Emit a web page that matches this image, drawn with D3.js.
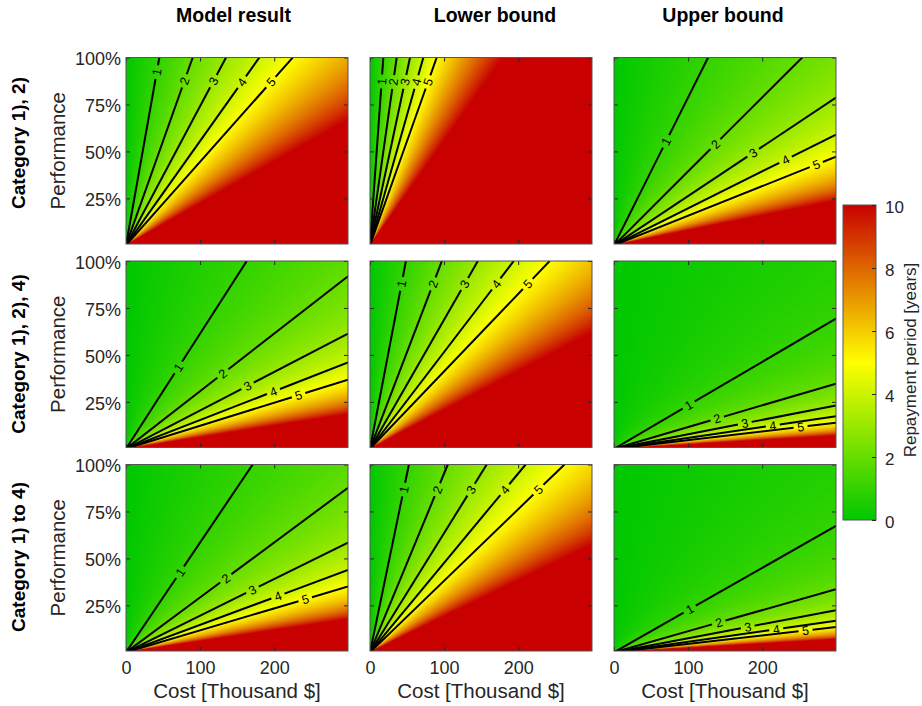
<!DOCTYPE html>
<html>
<head>
<meta charset="utf-8">
<script src="https://cdn.jsdelivr.net/npm/d3@7"></script>
<style>
  body { margin: 0; background: #fff; }
  svg text { font-family: "Liberation Sans", Arial, Helvetica, sans-serif; }
</style>
</head>
<body>
<svg id="chart" width="922" height="706"></svg>
<script>
// ---- data ----
const scenarios = ["Model result", "Lower bound", "Upper bound"];
const categories = ["Category 1), 2)", "Category 1), 2), 4)", "Category 1) to 4)"];
// yearly saving at 100 % performance [thousand $ / year], one per category row
const savingModel = [45, 163, 171];
const savingLower = [18, 48.5, 52.5];
const savingUpper = [127, 432, 445];
const contourLevels = [1, 2, 3, 4, 5];
// cost [thousand $] where each contour label sits
const labelCostModel = [[41.5, 78.8, 118, 156.4, 195.6], [70.7, 130.7, 164, 199, 232.9], [73, 134.7, 170.7, 205, 241.9]];
const labelCostLower = [[15.7, 31.3, 47, 62.6, 78.3], [42.6, 85.2, 127.7, 170.3, 212.9], [45.5, 90.9, 136.4, 181.9, 227.3]];
const labelCostUpper = [[70.3, 136.9, 187.8, 231.5, 273], [100.8, 139.2, 176.5, 214.3, 251.8], [102.2, 141.4, 180.5, 218.9, 258.5]];
const costTicks = [0, 100, 200];
const perfTicks = [0.25, 0.5, 0.75, 1];
const cbarTicks = [0, 2, 4, 6, 8, 10];

const savings = [savingModel, savingLower, savingUpper];
const labelCosts = [labelCostModel, labelCostLower, labelCostUpper];

// ---- layout ----
const colLeft = [126, 370, 614], panelW = 222;
const rowTop = [57.5, 261, 464.5], panelH = 186.5;
const titleX = [233.5, 495, 723];
const rowLabelY = [143, 354, 557];
const tickColor = "#262626";

const svg = d3.select("#chart");

const x = d3.scaleLinear().domain([0, 299.6]).range([0, panelW]);
const y = d3.scaleLinear().domain([0.007, 1]).range([panelH, 0]);
const color = d3.scaleLinear().domain([0, 5, 10]).range(["#00c800", "#ffff00", "#c80000"]).clamp(true);

const line = d3.line().x(d => x(d[0])).y(d => y(d[1]));

function heatmap(a) {
  const w = Math.ceil(panelW), h = Math.ceil(panelH);
  const cv = document.createElement("canvas");
  cv.width = w; cv.height = h;
  const ctx = cv.getContext("2d");
  const img = ctx.createImageData(w, h);
  for (let j = 0; j < h; j++) {
    const perf = y.invert(j + 0.5);
    for (let i = 0; i < w; i++) {
      const cost = x.invert(i + 0.5);
      const T = perf > 0 ? Math.min(10, cost / (a * perf)) : 10;
      const c = d3.rgb(color(T));
      const k = (j * w + i) * 4;
      img.data[k] = c.r; img.data[k + 1] = c.g; img.data[k + 2] = c.b; img.data[k + 3] = 255;
    }
  }
  ctx.putImageData(img, 0, 0);
  return cv.toDataURL();
}

scenarios.forEach((sc, c) => {
  svg.append("text")
    .attr("x", titleX[c]).attr("y", 21.5)
    .attr("text-anchor", "middle")
    .style("font-size", "19.5px").style("font-weight", "bold")
    .text(sc);

  categories.forEach((cat, r) => {
    const a = savings[c][r];
    const g = svg.append("g").attr("transform", `translate(${colLeft[c]},${rowTop[r]})`);
    const clipId = `clip-${r}-${c}`;
    g.append("clipPath").attr("id", clipId)
      .append("rect").attr("width", panelW).attr("height", panelH);

    g.append("image")
      .attr("href", heatmap(a))
      .attr("width", panelW).attr("height", panelH)
      .attr("preserveAspectRatio", "none");

    // contour lines with labels
    const lines = g.append("g").attr("clip-path", `url(#${clipId})`);
    contourLevels.forEach((t, i) => {
      const costEnd = Math.min(x.domain()[1], a * t);
      const p0 = [x(0), y(0)];
      const p1 = [x(costEnd), y(costEnd / (a * t))];
      const len = Math.hypot(p1[0] - p0[0], p1[1] - p0[1]);
      const u = [(p1[0] - p0[0]) / len, (p1[1] - p0[1]) / len];
      const lc = labelCosts[c][r][i];
      const L = [x(lc), y(lc / (a * t))];
      const gap = 7;
      const segs = [
        [p0, [L[0] - u[0] * gap, L[1] - u[1] * gap]],
        [[L[0] + u[0] * gap, L[1] + u[1] * gap], p1]
      ];
      segs.forEach(s => {
        lines.append("path")
          .attr("d", line(s.map(p => [x.invert(p[0]), y.invert(p[1])])))
          .attr("fill", "none").attr("stroke", "#000").attr("stroke-width", 2);
      });
      const ang = Math.atan2(u[1], u[0]) * 180 / Math.PI;
      g.append("text")
        .attr("transform", `translate(${L[0]},${L[1]}) rotate(${ang})`)
        .attr("text-anchor", "middle").attr("dy", "0.36em")
        .style("font-size", "12.5px").attr("fill", "#000")
        .text(t);
    });

    // axes (ticks pointing inward, box on)
    const bottom = g.append("g").attr("transform", `translate(0,${panelH})`)
      .call(d3.axisBottom(x).tickValues(costTicks).tickSize(-4).tickPadding(10)
        .tickFormat(r === 2 ? d3.format("d") : ""));
    const top = g.append("g").call(d3.axisTop(x).tickValues(costTicks).tickSize(-4).tickFormat(""));
    const left = g.append("g")
      .call(d3.axisLeft(y).tickValues(perfTicks).tickSize(-4).tickPadding(5)
        .tickFormat(c === 0 ? (d => Math.round(d * 100) + "%") : ""));
    const right = g.append("g").attr("transform", `translate(${panelW},0)`)
      .call(d3.axisRight(y).tickValues(perfTicks).tickSize(-4).tickFormat(""));
    [bottom, top, left, right].forEach(ax => {
      ax.select(".domain").remove();
      ax.selectAll("line").attr("stroke", tickColor);
      ax.selectAll("text").style("font-size", "18px").attr("fill", tickColor);
    });
    left.selectAll("text").attr("dy", "0.4em");

    g.append("rect").attr("width", panelW).attr("height", panelH)
      .attr("fill", "none").attr("stroke", "#555").attr("stroke-width", 1);

    if (c === 0) {
      svg.append("text")
        .attr("transform", `translate(25,${rowLabelY[r]}) rotate(-90)`)
        .attr("text-anchor", "middle")
        .style("font-size", "19px").style("font-weight", "bold")
        .text(cat);
      svg.append("text")
        .attr("transform", `translate(64.5,${rowTop[r] + panelH / 2}) rotate(-90)`)
        .attr("text-anchor", "middle")
        .style("font-size", "20.5px").attr("fill", tickColor)
        .text("Performance");
    }
    if (r === 2) {
      svg.append("text")
        .attr("x", colLeft[c] + panelW / 2).attr("y", 698.3)
        .attr("text-anchor", "middle")
        .style("font-size", "20.5px").attr("fill", tickColor)
        .text("Cost [Thousand $]");
    }
  });
});

// ---- colorbar ----
const cb = { x: 843, w: 33, top: 205, bottom: 520 };
const cy = d3.scaleLinear().domain([0, 10]).range([cb.bottom, cb.top]);
const grad = svg.append("defs").append("linearGradient")
  .attr("id", "cbgrad").attr("x1", 0).attr("y1", 1).attr("x2", 0).attr("y2", 0);
d3.range(0, 10.01, 1).forEach(v => {
  grad.append("stop").attr("offset", v / 10).attr("stop-color", color(v));
});
svg.append("rect")
  .attr("x", cb.x).attr("y", cb.top).attr("width", cb.w).attr("height", cb.bottom - cb.top)
  .attr("fill", "url(#cbgrad)").attr("stroke", "#555").attr("stroke-width", 1);
const cax = svg.append("g").attr("transform", `translate(${cb.x + cb.w},0)`)
  .call(d3.axisRight(cy).tickValues(cbarTicks).tickSize(-4).tickPadding(9));
cax.select(".domain").remove();
cax.selectAll("line").attr("stroke", tickColor);
cax.selectAll("text").style("font-size", "17px").attr("fill", tickColor).attr("dy", "0.42em");
svg.append("text")
  .attr("transform", `translate(916,360) rotate(-90)`)
  .attr("text-anchor", "middle")
  .style("font-size", "17px").attr("fill", tickColor)
  .text("Repayment period [years]");
</script>
</body>
</html>
